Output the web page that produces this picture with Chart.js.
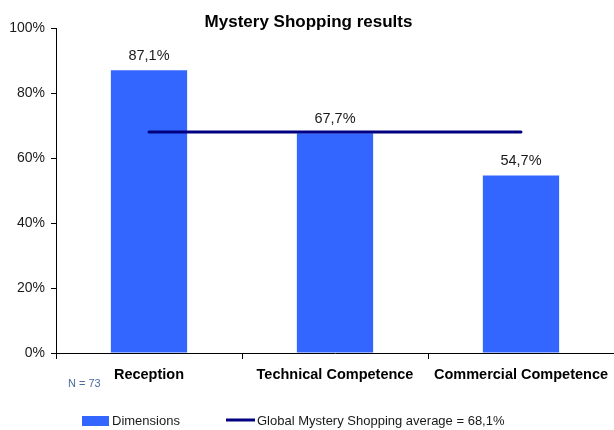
<!DOCTYPE html>
<html><head><meta charset="utf-8">
<script src="https://cdn.jsdelivr.net/npm/chart.js@4/dist/chart.umd.min.js"></script>
<style>html,body{margin:0;padding:0;background:#fff}</style>
</head><body>
<canvas id="c" width="614" height="430"></canvas>
<script>
const categories = ["Reception", "Technical Competence", "Commercial Competence"];
const dimensionValues = [87.1, 67.7, 54.7];
const globalAverage = 68.1;
const averageValues = [globalAverage, globalAverage, globalAverage];
const yTicks = [0, 20, 40, 60, 80, 100];
const sampleNote = "N = 73";
const FONT = "'Liberation Sans', Arial, sans-serif";
const fmt = v => v.toFixed(1).replace('.', ',') + '%';

const extras = {
  id: 'extras',
  afterDatasetsDraw(chart) {
    const ctx = chart.ctx;
    const meta = chart.getDatasetMeta(1);
    ctx.save();
    ctx.font = "14.5px " + FONT;
    ctx.fillStyle = "#1a1a1a";
    ctx.textAlign = "center";
    ctx.textBaseline = "middle";
    meta.data.forEach((el, i) => {
      ctx.fillText(fmt(dimensionValues[i]), el.x, el.y - 14);
    });
    ctx.restore();
  },
  afterDraw(chart) {
    const ctx = chart.ctx;
    ctx.save();
    ctx.font = "11px " + FONT;
    ctx.fillStyle = "#4a6d9c";
    ctx.textAlign = "left";
    ctx.textBaseline = "middle";
    ctx.fillText(sampleNote, 68, 384);
    // legend
    ctx.fillStyle = "#3366FF";
    ctx.fillRect(82, 416, 27, 10);
    ctx.font = "13px " + FONT;
    ctx.fillStyle = "#1a1a1a";
    ctx.fillText(chart.data.datasets[1].label, 112, 421);
    ctx.strokeStyle = "#000080";
    ctx.lineWidth = 3;
    ctx.beginPath(); ctx.moveTo(226, 420); ctx.lineTo(255, 420); ctx.stroke();
    ctx.fillText(chart.data.datasets[0].label, 257, 421);
    ctx.restore();
  }
};

new Chart(document.getElementById('c'), {
  data: {
    labels: categories,
    datasets: [
      { type: 'line', label: 'Global Mystery Shopping average = ' + fmt(globalAverage),
        data: averageValues, borderColor: '#000080', borderWidth: 3, pointRadius: 0,
        borderCapStyle: 'round', order: 0 },
      { type: 'bar', label: 'Dimensions', data: dimensionValues,
        backgroundColor: '#3366FF', barPercentage: 0.41, categoryPercentage: 1, order: 1 }
    ]
  },
  options: {
    responsive: false,
    animation: false,
    layout: { padding: { left: 0, top: 0, bottom: 0, right: -3 } },
    plugins: {
      legend: { display: false },
      tooltip: { enabled: false },
      title: { display: true, text: 'Mystery Shopping results',
        font: { family: FONT, size: 17, weight: 'bold' }, color: '#000',
        padding: { top: 12, bottom: -4 } }
    },
    scales: {
      x: {
        offset: true,
        grid: { offset: true, drawOnChartArea: false, drawTicks: true, tickLength: 6, color: '#000' },
        border: { color: '#000', width: 1 },
        ticks: { font: { family: FONT, size: 14.5, weight: 'bold' }, color: '#000', padding: 7, maxRotation: 0, autoSkip: false },
        afterFit(s) { s.height = 77; s.paddingLeft = 0; s.paddingRight = 0; }
      },
      y: {
        min: 0, max: 100,
        afterBuildTicks(s) { s.ticks = yTicks.map(v => ({ value: v })); },
        grid: { drawOnChartArea: false, drawTicks: true, tickLength: 5, color: '#000' },
        border: { color: '#000', width: 1 },
        ticks: { font: { family: FONT, size: 14 }, color: '#1a1a1a', padding: 6, callback: v => v + '%' },
        afterFit(s) { s.width = 56; }
      }
    }
  },
  plugins: [extras]
});
</script>
</body></html>
